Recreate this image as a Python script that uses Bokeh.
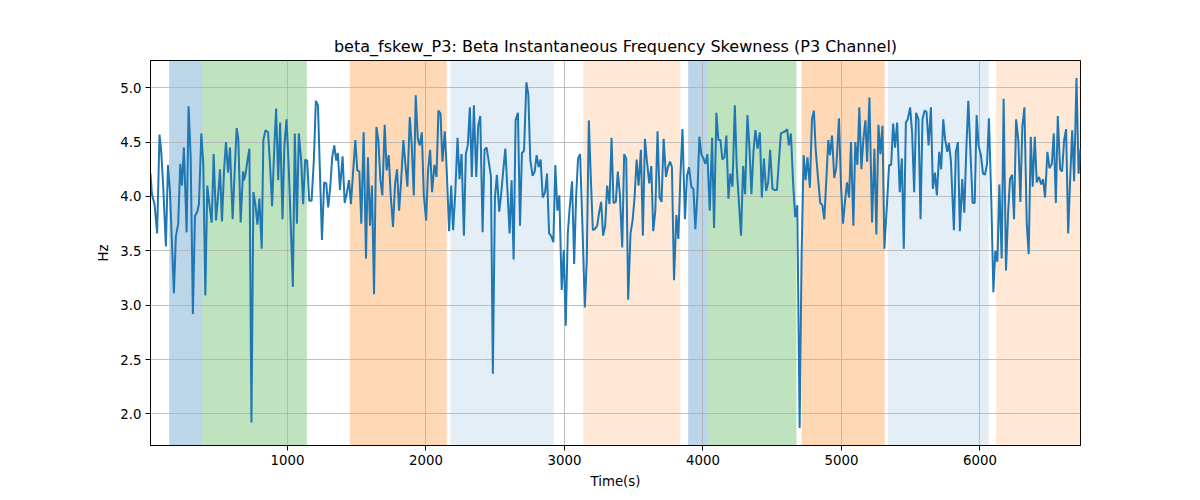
from bokeh.plotting import figure
from bokeh.models import Range1d, BoxAnnotation, FixedTicker, PrintfTickFormatter, ColumnDataSource
from bokeh.embed import file_html
from bokeh.resources import INLINE

# ---- data: time (s) and beta frequency skewness (Hz) ----
t_a = [11,21,40,59,76,88,103,122,137,151,180,194,211,226,238,252,272,286,301,317,332,349,361,378,392,407,421,436,453,467,484,498,513,527,542,556,571,585,604,619,633,645,662,679,686,696,711,725,740,754,768,783,797,814,826,841,860,875,889,904,918,933,947]
v_a = [4.21,4.02,3.93,3.66,4.57,4.42,4.09,3.54,4.29,4.06,3.11,3.63,3.75,4.30,4.10,4.45,3.67,4.83,4.36,2.92,3.82,3.86,3.93,4.58,4.30,3.09,4.10,3.93,3.76,4.39,3.78,3.99,4.25,3.77,4.24,4.50,4.22,4.45,3.79,4.24,4.63,4.53,3.76,4.23,4.15,4.20,4.33,4.44,1.92,4.04,3.93,3.74,3.98,3.52,4.52,4.61,4.59,4.27,3.91,4.42,4.81,4.15,4.68]

t_b = [964,978,993,1010,1039,1053,1068,1082,1099,1113,1128,1142,1157,1174,1191,1205,1220,1234,1249,1265,1280,1294,1309,1323,1338,1352,1364,1379,1398,1413,1427,1444,1458,1473,1490,1504,1519,1533,1550,1567,1581,1596,1610,1625,1642,1656,1671,1685,1702,1716,1731,1745,1762,1777,1791,1806,1820,1837,1851,1866,1883,1897,1912]
v_b = [3.79,4.47,4.71,4.24,3.17,4.58,3.75,4.58,4.33,3.93,4.34,4.33,3.96,3.96,4.35,4.88,4.84,4.24,3.60,4.13,4.12,3.90,4.09,4.36,4.47,4.33,4.40,4.06,4.37,3.94,4.02,4.15,3.93,4.21,4.52,4.24,4.23,3.75,4.59,3.43,4.36,3.73,4.10,3.10,4.64,4.52,4.15,4.01,4.66,4.24,4.38,4.02,3.72,4.12,4.25,3.87,4.13,4.52,4.30,4.09,4.73,4.48,4.01]

t_c = [1926,1941,1955,1970,1984,2001,2015,2030,2044,2061,2076,2090,2105,2119,2136,2150,2167,2182,2196,2211,2228,2242,2257,2274,2288,2302,2317,2331,2346,2363,2377,2392,2409,2423,2438,2452,2469,2483,2498,2512,2529,2544,2558,2573,2589,2604,2618,2633,2647,2664,2679,2693,2708,2725,2739,2753,2770,2785,2799,2814,2828,2843,2860,2874]
v_c = [4.93,4.53,4.47,4.59,4.02,3.78,4.24,4.43,4.04,4.29,4.18,4.79,4.76,4.32,4.60,4.24,3.68,4.10,3.69,4.02,4.54,4.16,4.39,3.64,4.39,4.47,4.82,4.18,4.84,4.18,4.65,4.74,3.67,4.43,4.45,4.33,4.19,2.37,3.99,4.20,3.86,4.04,4.24,4.44,4.04,3.66,4.15,3.42,4.70,4.77,3.73,4.40,4.42,5.05,4.94,4.34,4.19,4.23,4.38,4.27,4.34,3.99,4.04,4.21]

t_d = [2889,2903,2920,2934,2949,2963,2980,2995,3009,3024,3038,3055,3070,3084,3098,3113,3130,3147,3161,3176,3190,3205,3219,3236,3250,3265,3279,3294,3308,3325,3340,3354,3371,3385,3400,3417,3431,3446,3460,3477,3492,3506,3521,3535,3552,3566,3581,3595,3612,3627,3641,3656,3672,3687,3701,3716,3733,3747,3762,3776,3791,3808,3822,3837,3852]
v_d = [3.66,3.64,3.58,4.29,3.87,4.01,3.14,3.51,2.81,3.66,3.90,4.14,3.38,3.99,4.35,4.39,3.72,2.98,3.41,4.70,4.18,3.69,3.70,3.73,3.85,3.95,3.64,3.73,4.10,3.93,4.54,3.94,3.95,4.23,4.02,3.53,4.39,4.35,3.05,3.66,3.78,3.99,4.34,4.10,4.43,3.64,4.53,4.33,4.12,4.28,3.68,3.87,4.60,3.99,3.95,4.53,4.18,4.27,4.32,4.27,3.23,3.83,3.61,4.18,4.62]

t_e = [3870,3885,3899,3916,3931,3945,3960,3974,3988,4003,4017,4032,4049,4066,4080,4097,4111,4126,4140,4155,4169,4184,4198,4213,4230,4244,4259,4275,4290,4304,4321,4336,4350,4365,4379,4394,4411,4425,4440,4456,4471,4485,4502,4517,4534,4548,4563,4577,4594,4608,4620,4635,4652,4666,4681,4698,4712,4727,4741,4755,4772,4787,4801]
v_e = [3.79,4.19,4.27,4.09,4.07,3.70,4.02,4.55,4.39,4.35,4.30,4.39,3.87,4.54,3.71,4.77,4.52,4.52,4.34,4.36,4.56,3.98,4.21,4.09,4.84,4.27,3.96,3.64,4.28,4.02,4.75,4.44,4.02,4.42,4.61,4.44,4.59,3.99,4.35,4.05,4.13,4.43,4.07,4.06,4.06,4.32,4.58,4.59,4.60,4.62,4.47,4.58,4.10,3.81,3.92,1.87,3.44,4.38,4.15,4.36,4.08,4.71,4.79]

t_f = [4813,4828,4847,4862,4876,4891,4905,4917,4932,4948,4963,4982,4997,5011,5026,5040,5055,5069,5086,5100,5115,5129,5144,5158,5173,5185,5202,5221,5238,5252,5267,5281,5296,5310,5330,5344,5359,5373,5387,5402,5421,5436,5450,5465,5479,5496,5510,5525,5539,5556,5571,5585,5600,5614,5629,5646,5660,5675,5689,5706,5720,5735,5749,5764]
v_f = [4.45,4.21,3.94,3.92,3.79,4.16,4.52,4.38,4.56,4.17,4.27,4.72,4.09,3.75,3.96,4.13,3.99,4.50,3.73,4.50,4.29,4.82,4.25,4.52,4.70,4.32,4.91,3.76,4.44,3.65,4.66,4.39,4.65,3.52,3.96,4.29,4.29,4.67,4.45,4.68,4.04,4.35,3.52,4.68,4.71,4.82,4.59,4.04,4.77,4.71,3.79,4.71,4.79,4.78,4.47,4.82,4.07,4.22,4.01,4.41,4.25,4.71,4.52,4.41]

t_g = [5776,5790,5812,5826,5841,5855,5872,5887,5901,5916,5930,5947,5962,5976,5990,6007,6022,6036,6051,6065,6082,6097,6111,6126,6140,6157,6171,6188,6203,6217,6232,6246,6261,6277,6292,6306,6321,6338,6352,6367,6381,6396,6410,6427,6442,6456,6470,6487,6502,6519,6533,6548,6562,6579,6593,6608,6622,6637,6651,6666,6680,6697,6712,6726]
v_g = [4.49,4.33,3.69,4.41,4.50,3.68,4.16,3.85,4.42,4.88,4.45,3.94,3.94,4.75,4.47,4.38,4.21,4.20,4.30,4.72,3.96,3.12,3.50,3.40,4.11,3.43,4.90,3.32,3.84,4.16,4.20,3.79,4.71,4.52,3.95,4.64,4.82,3.75,3.47,4.55,4.09,4.55,4.13,4.18,4.11,4.16,3.99,4.41,4.26,4.30,4.58,3.94,4.74,4.25,4.23,4.52,4.62,3.66,4.15,4.61,4.14,5.09,4.21,4.44]

# shaded phases (s)
phase_start = [146, 385, 1449, 2177, 3135, 3893, 4037, 4712, 5334, 6116]
phase_end = [385, 1140, 2150, 2922, 3837, 4037, 4675, 5313, 6063, 6760]
phase_kind = ["blue", "green", "orange", "lightblue", "lightorange",
              "blue", "green", "orange", "lightblue", "lightorange"]

x_ticks = [1000, 2000, 3000, 4000, 5000, 6000]
y_ticks = [2.0, 2.5, 3.0, 3.5, 4.0, 4.5, 5.0]

time = t_a + t_b + t_c + t_d + t_e + t_f + t_g
hz = v_a + v_b + v_c + v_d + v_e + v_f + v_g

kind_style = {
    "blue": ("#1f77b4", 0.3),
    "green": ("#2ca02c", 0.3),
    "orange": ("#ff7f0e", 0.3),
    "lightblue": ("#1f77b4", 0.12),
    "lightorange": ("#ff7f0e", 0.17),
}

span = max(hz) - min(hz)
p = figure(width=1184, height=492, output_backend="svg", toolbar_location=None,
           x_range=Range1d(time[0], time[-1]),
           y_range=Range1d(min(hz) - 0.05 * span, max(hz) + 0.05 * span),
           min_border_left=150, min_border_right=104,
           min_border_top=60, min_border_bottom=47,
           title="beta_fskew_P3: Beta Instantaneous Frequency Skewness (P3 Channel)")

for s, e, k in zip(phase_start, phase_end, phase_kind):
    c, a = kind_style[k]
    p.add_layout(BoxAnnotation(left=s, right=e, fill_color=c, fill_alpha=a,
                               line_color=None, level="image"))

src = ColumnDataSource(dict(time=time, hz=hz))
p.line("time", "hz", source=src, line_color="#1f77b4", line_width=2)

p.title.align = "center"
p.title.text_font = "DejaVu Sans"
p.title.text_font_size = "16px"
p.title.text_font_style = "normal"
p.title.text_color = "black"

p.outline_line_color = "black"
p.outline_line_width = 1
p.outline_line_alpha = 1

for ax in (p.xaxis, p.yaxis):
    ax.axis_line_color = "black"
    ax.major_tick_line_color = "black"
    ax.major_tick_out = 5
    ax.major_tick_in = 0
    ax.minor_tick_line_color = None
    ax.major_label_text_font = "DejaVu Sans"
    ax.major_label_text_font_size = "13.3px"
    ax.major_label_text_color = "black"
    ax.axis_label_text_font = "DejaVu Sans"
    ax.axis_label_text_font_size = "13.3px"
    ax.axis_label_text_font_style = "normal"
    ax.axis_label_text_color = "black"

p.xaxis.ticker = FixedTicker(ticks=x_ticks)
p.yaxis.ticker = FixedTicker(ticks=y_ticks)
p.yaxis.formatter = PrintfTickFormatter(format="%.1f")
p.xaxis.axis_label = "Time(s)"
p.yaxis.axis_label = "Hz"
p.xaxis.major_label_standoff = 4
p.yaxis.major_label_standoff = 4
p.xaxis.axis_label_standoff = 6
p.yaxis.axis_label_standoff = 6

for g in (p.xgrid, p.ygrid):
    g.grid_line_color = "#b0b0b0"
    g.grid_line_width = 0.8

p.background_fill_color = "white"
p.border_fill_color = "white"

open("out.html", "w").write(file_html(p, INLINE))
